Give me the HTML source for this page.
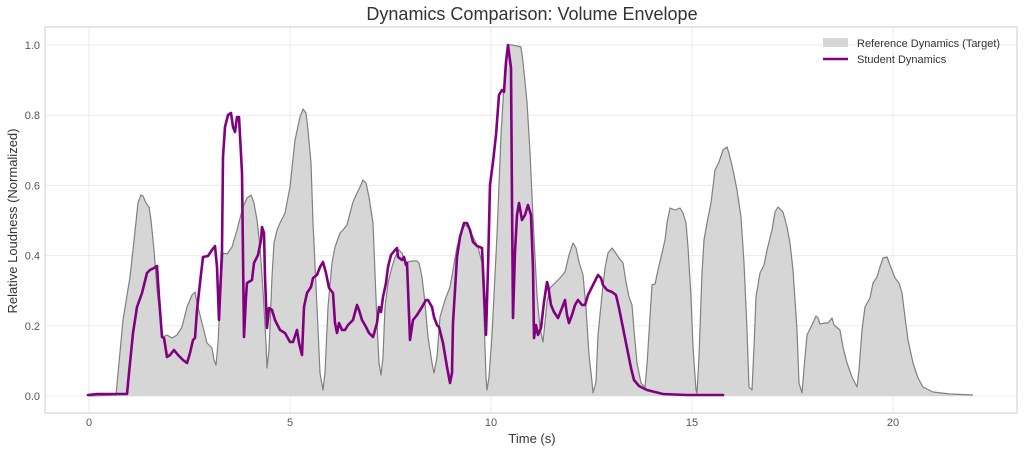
<!DOCTYPE html>
<html>
<head>
<meta charset="utf-8">
<style>
  html,body{margin:0;padding:0;background:#ffffff;}
  svg{display:block;}
  text{font-family:"Liberation Sans", Arial, sans-serif;}
</style>
</head>
<body>
<svg width="1024" height="452" viewBox="0 0 1024 452" xmlns="http://www.w3.org/2000/svg">
  <rect x="0" y="0" width="1024" height="452" fill="#ffffff"/>
  <!-- title -->
  <text x="532" y="20" font-size="18" fill="#333333" text-anchor="middle">Dynamics Comparison: Volume Envelope</text>

  <!-- grid -->
  <g stroke="#ebebeb" stroke-width="1">
    <line x1="45" y1="45" x2="1017" y2="45"/>
    <line x1="45" y1="115.2" x2="1017" y2="115.2"/>
    <line x1="45" y1="185.4" x2="1017" y2="185.4"/>
    <line x1="45" y1="255.6" x2="1017" y2="255.6"/>
    <line x1="45" y1="325.8" x2="1017" y2="325.8"/>
    <line x1="45" y1="396" x2="1017" y2="396"/>
    <line x1="89" y1="27" x2="89" y2="413"/>
    <line x1="290" y1="27" x2="290" y2="413"/>
    <line x1="491" y1="27" x2="491" y2="413"/>
    <line x1="692" y1="27" x2="692" y2="413"/>
    <line x1="893" y1="27" x2="893" y2="413"/>
  </g>

  <!-- reference fill -->
  <path fill="#d6d6d6" stroke="none" d="M89,396 L116,395 123,320 130,277 133,250 138,203 141,195 143,196 146,203 149,207 151,220 154,250 157,290 161,323 163,337 167,335 172,338 177,335 182,327 187,307 192,295 195,292 197,303 202,323 207,343 212,348 214,360 216,365 218,343 220,303 223,253 227,254 232,247 237,230 239,222 243,207 247,198 251,195 254,203 257,220 260,247 263,290 266,343 267,368 269,350 272,277 274,243 277,230 280,223 285,213 290,187 295,140 300,117 303,109 306,113 308,130 311,163 313,223 317,307 320,373 323,390 325,373 328,307 332,263 335,247 340,233 343,230 347,225 350,213 353,202 357,193 360,187 363,180 366,183 369,197 373,223 375,273 377,323 379,363 381,375 383,357 385,307 388,283 392,267 395,257 399,250 402,253 405,263 408,262 412,261 417,261 419,263 422,277 425,303 428,337 432,363 434,373 437,357 440,317 445,300 450,287 453,270 457,247 462,230 465,225 468,227 473,237 478,247 482,263 484,317 486,377 487,390 489,377 492,335 497,235 501,135 505,68 508,45 512,45 517,46 521,47 523,62 527,102 530,152 533,218 537,295 540,328 543,342 547,302 550,288 555,283 560,278 565,272 569,255 573,243 576,248 579,262 583,275 586,308 589,355 592,382 593,393 596,382 598,335 602,295 605,268 608,253 612,248 615,252 619,258 623,263 626,282 629,297 632,305 634,330 637,363 641,383 645,387 647,365 650,317 652,285 655,284 658,270 662,253 665,240 667,223 670,208 675,210 680,208 683,213 686,223 688,247 691,297 693,347 696,390 697,393 699,357 702,273 704,240 707,223 711,203 715,170 719,162 723,150 727,147 729,153 733,170 737,190 741,217 744,263 747,330 749,387 752,390 754,347 756,297 760,273 764,265 767,250 772,230 775,212 778,207 783,212 787,227 790,243 793,270 797,330 799,383 802,393 805,357 807,335 812,325 816,316 818,318 820,324 825,323 828,323 832,318 834,325 840,330 843,347 847,363 852,377 857,387 859,370 862,330 865,307 870,298 873,283 877,277 880,267 883,258 887,257 890,265 895,278 899,283 902,293 905,317 908,340 913,363 918,378 923,387 933,392 950,394 973,395 L973,396 Z"/>
  <!-- reference edge -->
  <path fill="none" stroke="#808080" stroke-width="1.2" stroke-linejoin="round" d="M89,396 L116,395 123,320 130,277 133,250 138,203 141,195 143,196 146,203 149,207 151,220 154,250 157,290 161,323 163,337 167,335 172,338 177,335 182,327 187,307 192,295 195,292 197,303 202,323 207,343 212,348 214,360 216,365 218,343 220,303 223,253 227,254 232,247 237,230 239,222 243,207 247,198 251,195 254,203 257,220 260,247 263,290 266,343 267,368 269,350 272,277 274,243 277,230 280,223 285,213 290,187 295,140 300,117 303,109 306,113 308,130 311,163 313,223 317,307 320,373 323,390 325,373 328,307 332,263 335,247 340,233 343,230 347,225 350,213 353,202 357,193 360,187 363,180 366,183 369,197 373,223 375,273 377,323 379,363 381,375 383,357 385,307 388,283 392,267 395,257 399,250 402,253 405,263 408,262 412,261 417,261 419,263 422,277 425,303 428,337 432,363 434,373 437,357 440,317 445,300 450,287 453,270 457,247 462,230 465,225 468,227 473,237 478,247 482,263 484,317 486,377 487,390 489,377 492,335 497,235 501,135 505,68 508,45 512,45 517,46 521,47 523,62 527,102 530,152 533,218 537,295 540,328 543,342 547,302 550,288 555,283 560,278 565,272 569,255 573,243 576,248 579,262 583,275 586,308 589,355 592,382 593,393 596,382 598,335 602,295 605,268 608,253 612,248 615,252 619,258 623,263 626,282 629,297 632,305 634,330 637,363 641,383 645,387 647,365 650,317 652,285 655,284 658,270 662,253 665,240 667,223 670,208 675,210 680,208 683,213 686,223 688,247 691,297 693,347 696,390 697,393 699,357 702,273 704,240 707,223 711,203 715,170 719,162 723,150 727,147 729,153 733,170 737,190 741,217 744,263 747,330 749,387 752,390 754,347 756,297 760,273 764,265 767,250 772,230 775,212 778,207 783,212 787,227 790,243 793,270 797,330 799,383 802,393 805,357 807,335 812,325 816,316 818,318 820,324 825,323 828,323 832,318 834,325 840,330 843,347 847,363 852,377 857,387 859,370 862,330 865,307 870,298 873,283 877,277 880,267 883,258 887,257 890,265 895,278 899,283 902,293 905,317 908,340 913,363 918,378 923,387 933,392 950,394 973,395"/>

  <!-- student line -->
  <path fill="none" stroke="#800080" stroke-width="2.6" stroke-linejoin="round" stroke-linecap="round" d="M88,395 L97,394 116,394 127,394 129,373 133,333 137,307 142,293 147,273 150,270 154,268 157,266 159,297 162,337 164,338 167,357 170,355 174,350 178,355 183,360 187,363 190,353 193,340 195,338 197,310 200,283 203,257 208,256 212,250 215,246 217,267 219,320 222,250 223,157 225,127 228,115 231,113 233,127 235,132 237,117 239,117 242,173 244,337 246,297 247,283 252,280 254,263 258,255 261,240 262,227 264,233 265,277 267,328 269,308 272,310 275,320 280,330 285,333 290,342 293,342 297,330 299,343 302,355 304,307 307,293 311,287 313,278 317,275 320,267 323,262 326,273 329,288 333,293 335,323 337,333 339,323 342,330 345,330 348,325 353,320 357,305 359,310 362,320 366,327 369,333 373,337 377,323 379,307 381,312 383,297 386,283 388,267 391,255 395,250 397,248 398,257 402,260 404,257 406,265 407,263 410,340 413,320 417,315 422,307 426,300 428,300 432,307 434,317 437,325 439,327 443,343 447,367 450,383 452,373 453,323 457,257 460,237 464,223 467,223 470,230 473,242 477,246 482,248 484,290 486,335 488,268 490,185 493,162 496,135 499,95 502,90 504,92 506,62 508,45 511,68 512,202 513,318 515,252 517,215 519,203 522,220 525,215 528,205 531,215 533,268 534,338 536,325 538,335 541,328 544,302 547,282 548,285 551,305 554,312 558,318 562,308 565,300 567,315 569,323 572,315 575,305 578,300 582,305 585,305 588,295 593,285 598,275 601,278 603,285 607,290 612,292 616,295 619,308 623,328 627,348 631,368 634,380 639,386 647,390 663,394 687,395 723,395"/>

  <!-- frame -->
  <rect x="45" y="27" width="972" height="386" fill="none" stroke="#d9d9d9" stroke-width="1.3"/>

  <!-- y tick labels -->
  <g font-size="11" fill="#555555" text-anchor="end">
    <text x="40" y="49">1.0</text>
    <text x="40" y="119">0.8</text>
    <text x="40" y="189.5">0.6</text>
    <text x="40" y="259.5">0.4</text>
    <text x="40" y="330">0.2</text>
    <text x="40" y="400">0.0</text>
  </g>
  <!-- x tick labels -->
  <g font-size="11" fill="#555555" text-anchor="middle">
    <text x="89" y="426">0</text>
    <text x="290" y="426">5</text>
    <text x="491" y="426">10</text>
    <text x="692" y="426">15</text>
    <text x="893" y="426">20</text>
  </g>

  <!-- axis labels -->
  <text x="532" y="443" font-size="13" fill="#333333" text-anchor="middle">Time (s)</text>
  <text transform="translate(17,221) rotate(-90)" font-size="13" fill="#333333" text-anchor="middle">Relative Loudness (Normalized)</text>

  <!-- legend -->
  <rect x="823" y="38" width="25" height="9" fill="#d6d6d6"/>
  <text x="857" y="47" font-size="11" fill="#333333">Reference Dynamics (Target)</text>
  <line x1="823" y1="59" x2="848" y2="59" stroke="#800080" stroke-width="2.6"/>
  <text x="857" y="63" font-size="11" fill="#333333">Student Dynamics</text>
</svg>
</body>
</html>
